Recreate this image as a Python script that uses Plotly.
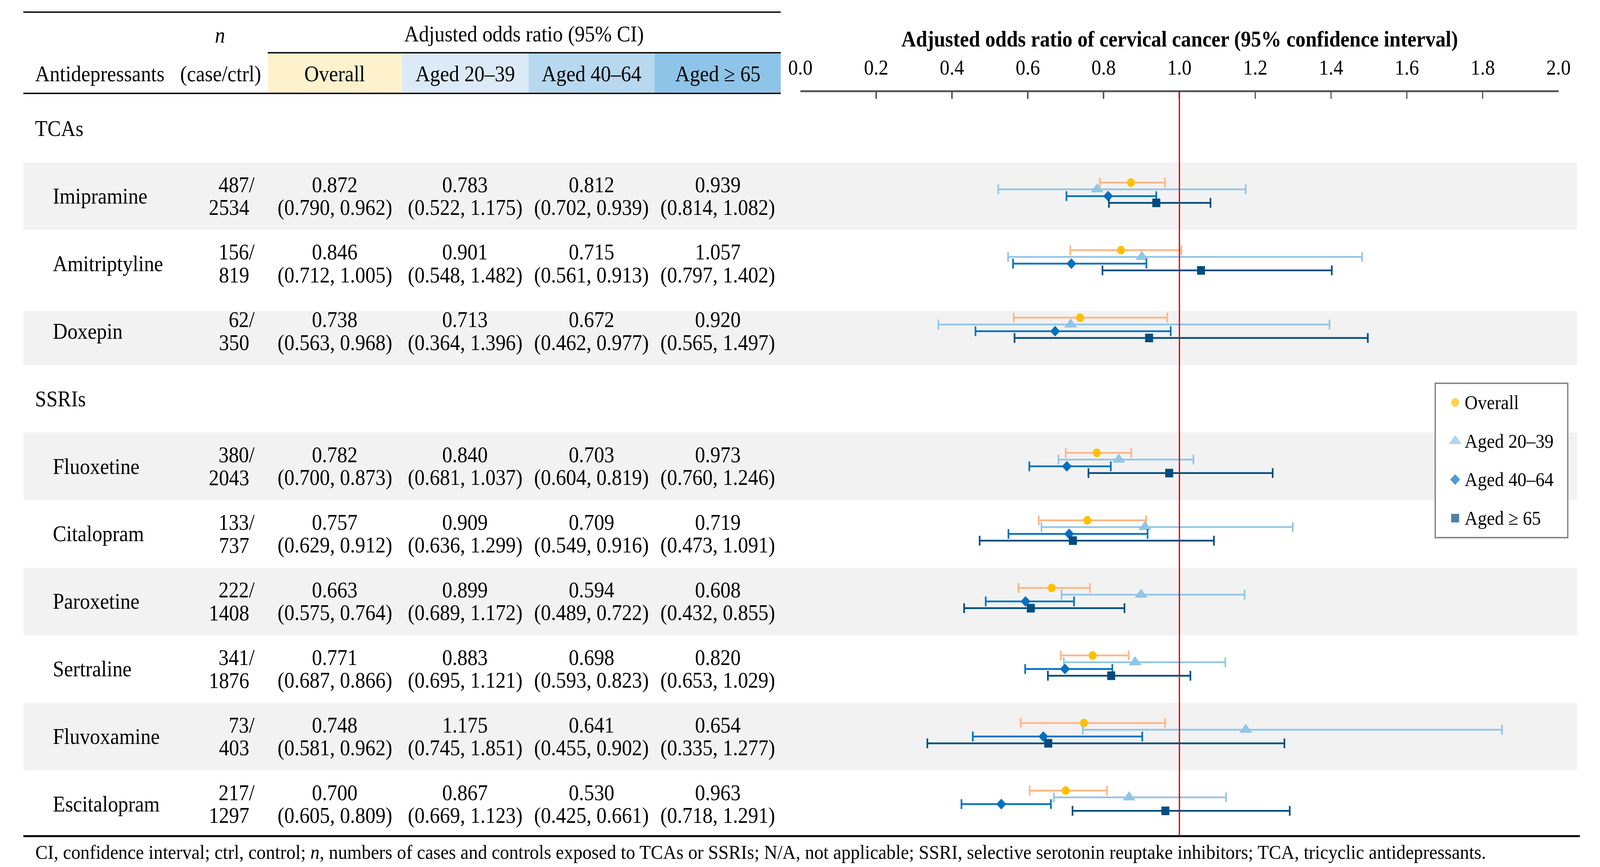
import plotly.graph_objects as go

drugs = ["Imipramine", "Amitriptyline", "Doxepin",
         "Fluoxetine", "Citalopram", "Paroxetine", "Sertraline", "Fluvoxamine", "Escitalopram"]
drug_class = ["TCAs", "TCAs", "TCAs", "SSRIs", "SSRIs", "SSRIs", "SSRIs", "SSRIs", "SSRIs"]
n_case = [487, 156, 62, 380, 133, 222, 341, 73, 217]
n_ctrl = [2534, 819, 350, 2043, 737, 1408, 1876, 403, 1297]

overall_or = [0.872, 0.846, 0.738, 0.782, 0.757, 0.663, 0.771, 0.748, 0.700]
overall_lo = [0.790, 0.712, 0.563, 0.700, 0.629, 0.575, 0.687, 0.581, 0.605]
overall_hi = [0.962, 1.005, 0.968, 0.873, 0.912, 0.764, 0.866, 0.962, 0.809]

age2039_or = [0.783, 0.901, 0.713, 0.840, 0.909, 0.899, 0.883, 1.175, 0.867]
age2039_lo = [0.522, 0.548, 0.364, 0.681, 0.636, 0.689, 0.695, 0.745, 0.669]
age2039_hi = [1.175, 1.482, 1.396, 1.037, 1.299, 1.172, 1.121, 1.851, 1.123]

age4064_or = [0.812, 0.715, 0.672, 0.703, 0.709, 0.594, 0.698, 0.641, 0.530]
age4064_lo = [0.702, 0.561, 0.462, 0.604, 0.549, 0.489, 0.593, 0.455, 0.425]
age4064_hi = [0.939, 0.913, 0.977, 0.819, 0.916, 0.722, 0.823, 0.902, 0.661]

age65_or = [0.939, 1.057, 0.920, 0.973, 0.719, 0.608, 0.820, 0.654, 0.963]
age65_lo = [0.814, 0.797, 0.565, 0.760, 0.473, 0.432, 0.653, 0.335, 0.718]
age65_hi = [1.082, 1.402, 1.497, 1.246, 1.091, 0.855, 1.029, 1.277, 1.291]

series_names = ["Overall", "Aged 20\u201339", "Aged 40\u201364", "Aged \u2265 65"]
x_ticks = [0.0, 0.2, 0.4, 0.6, 0.8, 1.0, 1.2, 1.4, 1.6, 1.8, 2.0]

footnote = ("CI, confidence interval; ctrl, control; <i>n</i>, numbers of cases and controls exposed to "
            "TCAs or SSRIs; N/A, not applicable; SSRI, selective serotonin reuptake inhibitors; "
            "TCA, tricyclic antidepressants.")

# ---- layout helpers (pixel positions on the 4422 x 2219 page) ----
W, H = 4422, 2219
FONT = "Liberation Serif"


def px(x):
    return x / W


def py(y):
    return 1 - y / H


# each class label and drug takes one slot on the y axis
slots = []
labels = []
prev = None
for d, c in zip(drugs, drug_class):
    if c != prev:
        labels.append((c, len(slots) + len(labels)))
        prev = c
    slots.append(len(slots) + len(labels))

PITCH = 172.9          # pixels per slot
TOP_SLOT_Y = 329       # pixel y of slot 0
y_range = [(H - TOP_SLOT_Y) / PITCH, -TOP_SLOT_Y / PITCH]

fig = go.Figure()

styles = [
    dict(line="#ffb584", marker="#ffc000", symbol="circle", size=22, off=-0.2),
    dict(line="#92c5e8", marker="#92c5e8", symbol="triangle-up", size=31, off=-0.1),
    dict(line="#0070c0", marker="#0070c0", symbol="diamond", size=21, off=0.0),
    dict(line="#044c7e", marker="#044c7e", symbol="square", size=22, off=0.1),
]
all_or = [overall_or, age2039_or, age4064_or, age65_or]
all_lo = [overall_lo, age2039_lo, age4064_lo, age65_lo]
all_hi = [overall_hi, age2039_hi, age4064_hi, age65_hi]

for name, st, o, lo, hi in zip(series_names, styles, all_or, all_lo, all_hi):
    fig.add_trace(go.Scatter(
        x=o,
        y=[s + st["off"] for s in slots],
        mode="markers",
        name=name,
        showlegend=False,
        marker=dict(symbol=st["symbol"], size=st["size"], color=st["marker"], line=dict(width=0)),
        error_x=dict(type="data", symmetric=False,
                     array=[h - v for h, v in zip(hi, o)],
                     arrayminus=[v - l for v, l in zip(o, lo)],
                     color=st["line"], thickness=4.5, width=12.5),
        hovertemplate=name + ": %{x:.3f}<extra></extra>",
    ))

# legend drawn by hand on a pixel-scaled overlay so its symbols keep full size
LEG_BOX = (3994, 981, 4366, 1376)
LEG_MX, LEG_TX, LEG_Y0, LEG_STEP = 4050, 4075, 1030, 98.7
leg_y = [LEG_Y0 + i * LEG_STEP for i in range(len(series_names))]
fig.add_trace(go.Scatter(
    x=[LEG_MX] * len(series_names), y=leg_y, xaxis="x2", yaxis="y2",
    mode="markers", showlegend=False, hoverinfo="skip",
    marker=dict(symbol=[st["symbol"] for st in styles],
                size=[st["size"] for st in styles],
                color=[st["marker"] for st in styles], line=dict(width=0)),
))

shapes = []
annotations = []

# gray row bands (alternate drug rows), doxepin band is trimmed as in the source
for i, s in enumerate(slots):
    if i in (0, 2, 3, 5, 7):
        top = s - 0.5 if i != 2 else s - 0.3
        shapes.append(dict(type="rect", xref="paper", yref="y", layer="below",
                           x0=px(31), x1=px(4392), y0=top, y1=s + 0.5,
                           fillcolor="#f2f2f2", line=dict(width=0)))

# header cells
cell_edges = [717, 1094, 1449, 1803, 2157]
cell_colors = ["#fef2cd", "#dbeaf6", "#b7d8ef", "#8ec4e8"]
for i, col in enumerate(cell_colors):
    shapes.append(dict(type="rect", xref="paper", yref="paper", layer="below",
                       x0=px(cell_edges[i]), x1=px(cell_edges[i + 1]), y0=py(137), y1=py(237),
                       fillcolor=col, line=dict(width=0)))

# table rules
for x0, x1, y in [(31, 2157, 31), (717, 2157, 135), (31, 2157, 239), (31, 4400, 2140)]:
    shapes.append(dict(type="line", xref="paper", yref="paper", x0=px(x0), x1=px(x1),
                       y0=py(y), y1=py(y), line=dict(color="black", width=3.5 if y != 2140 else 5)))

# reference line at OR = 1
shapes.append(dict(type="line", xref="x", yref="paper", layer="above", x0=1, x1=1,
                   y0=py(233), y1=py(2140), line=dict(color="#e60000", width=3.5)))

# legend frame (on the overlay axes so it sits above the row bands)
shapes.append(dict(type="rect", xref="x2", yref="y2", layer="below",
                   x0=LEG_BOX[0], x1=LEG_BOX[2], y0=LEG_BOX[1], y1=LEG_BOX[3],
                   fillcolor="white", line=dict(color="#7f7f7f", width=3.5)))

txt = dict(family=FONT, size=56, color="black")


def note(text, x, y, xanchor="center", yref="paper", font=txt):
    annotations.append(dict(text=text, x=x, y=y, xref="paper", yref=yref, xanchor=xanchor,
                            yanchor="middle", showarrow=False, font=font))


# header text
note("<i>n</i>", px(583), py(90))
note("Adjusted odds ratio (95% CI)", px(1437), py(88))
note("Antidepressants", px(62), py(189), xanchor="left")
note("(case/ctrl)", px(585), py(189))
col_centers = [905, 1271, 1626, 1980]
for nm, cx in zip(series_names, col_centers):
    note(nm, px(cx), py(189))

note("<b>Adjusted odds ratio of cervical cancer (95% confidence interval)</b>", px(3277), py(101),
     font=dict(family=FONT, size=56, color="black"))

for c, s in labels:
    note(c, px(62), s, xanchor="left", yref="y")

LINE = 0.17
for i, s in enumerate(slots):
    note(drugs[i], px(112), s, xanchor="left", yref="y")
    note(f"{n_case[i]}/", px(683), s - LINE, xanchor="right", yref="y")
    note(f"{n_ctrl[i]}", px(667), s + LINE, xanchor="right", yref="y")
    for o, lo, hi, cx in zip(all_or, all_lo, all_hi, col_centers):
        note(f"{o[i]:.3f}", px(cx), s - LINE, yref="y")
        note(f"({lo[i]:.3f}, {hi[i]:.3f})", px(cx), s + LINE, yref="y")

for nm, ly in zip(series_names, leg_y):
    note(nm, px(LEG_TX), py(ly), xanchor="left", font=dict(family=FONT, size=50, color="black"))

note(footnote, px(62), py(2181), xanchor="left", font=dict(family=FONT, size=51, color="black"))

fig.update_layout(
    width=W, height=H,
    margin=dict(l=0, r=0, t=0, b=0),
    paper_bgcolor="white", plot_bgcolor="rgba(0,0,0,0)",
    shapes=shapes, annotations=annotations,
    xaxis=dict(domain=[px(2212), px(4340)], range=[0, 2], anchor="free", position=py(233),
               side="top", tickvals=x_ticks, ticktext=[f"{t:.1f}" for t in x_ticks],
               ticks="inside", ticklen=17, tickwidth=4, tickcolor="#595959",
               showline=True, linecolor="#595959", linewidth=5,
               showgrid=False, zeroline=False, ticklabelstandoff=18,
               tickfont=dict(family=FONT, size=54, color="black")),
    yaxis=dict(domain=[0, 1], range=y_range, visible=False, fixedrange=True),
    xaxis2=dict(domain=[0, 1], range=[0, W], anchor="y2", visible=False),
    yaxis2=dict(domain=[0, 1], range=[H, 0], anchor="x2", visible=False),
    showlegend=False,
)

# the browser viewport can be narrower than the page: stretch the page over it
fit_js = """
document.body.style.margin = '0';
document.body.style.overflow = 'hidden';
var gd = document.getElementById('{plot_id}');
var sx = window.innerWidth / 4422, sy = window.innerHeight / 2219;
gd.style.transformOrigin = '0 0';
gd.style.transform = 'scale(' + sx + ',' + sy + ')';
"""

fig.write_html("out.html", post_script=fit_js, config={"displayModeBar": False})
